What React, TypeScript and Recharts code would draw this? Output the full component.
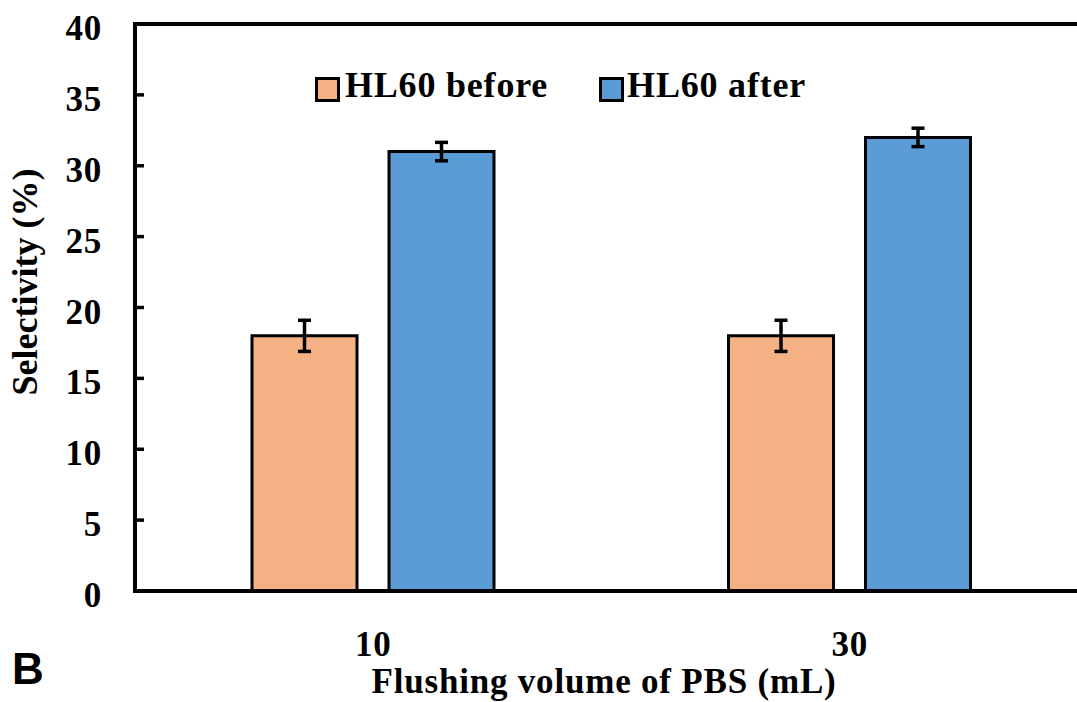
import { BarChart, Bar, XAxis, YAxis, ErrorBar, Legend, ReferenceLine } from "recharts";

const volumes = ["10", "30"];
const hl60Before = [18, 18];
const hl60BeforeErr = [1.1, 1.1];
const hl60After = [31, 32];
const hl60AfterErr = [0.65, 0.65];
const yTicks = [0, 5, 10, 15, 20, 25, 30, 35, 40];

const SERIF = '"Liberation Serif", "Times New Roman", serif';
const ORANGE = "#F4B183";
const BLUE = "#5B9BD5";
const FONT_SIZE = 35;
const SPACING = 0.8;

const data = volumes.map((volume, i) => ({
  volume,
  before: hl60Before[i],
  beforeErr: hl60BeforeErr[i],
  after: hl60After[i],
  afterErr: hl60AfterErr[i],
}));

const legendItems = [
  { name: "HL60 before", color: ORANGE },
  { name: "HL60 after", color: BLUE },
];

function YTick({ x, y, payload }: any) {
  const v = payload.value;
  return (
    <g>
      {v !== 0 && v !== 40 && <line x1={x} x2={x + 9} y1={y} y2={y} stroke="#000" strokeWidth={3.5} />}
      <text
        x={102}
        y={y + 16}
        textAnchor="end"
        fontFamily={SERIF}
        fontWeight="bold"
        fontSize={FONT_SIZE}
        letterSpacing={SPACING}
        fill="#000"
      >
        {v}
      </text>
    </g>
  );
}

function XTick({ x, payload }: any) {
  return (
    <text
      x={x}
      y={656}
      textAnchor="middle"
      fontFamily={SERIF}
      fontWeight="bold"
      fontSize={FONT_SIZE}
      letterSpacing={SPACING}
      fill="#000"
    >
      {payload.value}
    </text>
  );
}

function renderLegend() {
  return (
    <div
      style={{
        display: "flex",
        alignItems: "center",
        fontFamily: SERIF,
        fontWeight: "bold",
        fontSize: 36,
        letterSpacing: SPACING,
        lineHeight: "36px",
        whiteSpace: "nowrap",
        color: "#000",
      }}
    >
      {legendItems.map((item, i) => (
        <div key={item.name} style={{ display: "flex", alignItems: "center", marginRight: i === 0 ? 51 : 0 }}>
          <span
            style={{
              display: "inline-block",
              position: "relative",
              top: 4,
              width: 25,
              height: 25,
              boxSizing: "border-box",
              border: "3px solid #000",
              background: item.color,
              marginRight: i === 0 ? 5 : 3,
            }}
          />
          <span>{item.name}</span>
        </div>
      ))}
    </div>
  );
}

export default function App() {
  return (
    <div style={{ position: "absolute", left: 0, top: 0, width: 1077, height: 702, overflow: "hidden", background: "#fff" }}>
      <BarChart
        width={1100}
        height={702}
        data={data}
        margin={{ top: 24, right: 12, left: 0, bottom: 0 }}
        barSize={105}
        barGap={32}
      >
        <XAxis
          dataKey="volume"
          height={111}
          tickLine={false}
          tickSize={0}
          tickMargin={0}
          axisLine={{ stroke: "#000", strokeWidth: 4, strokeLinecap: "square" }}
          tick={<XTick />}
          label={{
            content: () => (
              <g>
                <text
                  x={604}
                  y={693}
                  textAnchor="middle"
                  fontFamily={SERIF}
                  fontWeight="bold"
                  fontSize={FONT_SIZE}
                  letterSpacing={SPACING}
                  fill="#000"
                >
                  Flushing volume of PBS (mL)
                </text>
                <text x={12} y={684} fontFamily='"Liberation Sans", Arial, sans-serif' fontWeight="bold" fontSize={44} fill="#000">
                  B
                </text>
              </g>
            ),
          }}
        />
        <YAxis
          type="number"
          domain={[0, 40]}
          ticks={yTicks}
          width={135}
          tickLine={false}
          tickSize={0}
          tickMargin={0}
          axisLine={{ stroke: "#000", strokeWidth: 4, strokeLinecap: "square" }}
          tick={<YTick />}
          label={{
            content: () => (
              <text
                x={37}
                y={282}
                transform="rotate(-90, 37, 282)"
                textAnchor="middle"
                fontFamily={SERIF}
                fontWeight="bold"
                fontSize={36}
                fill="#000"
              >
                Selectivity (%)
              </text>
            ),
          }}
        />
        <ReferenceLine y={40} stroke="#000" strokeWidth={4} />
        <Legend
          layout="vertical"
          align="center"
          verticalAlign="middle"
          wrapperStyle={{ top: 67, left: 315, width: "auto" }}
          content={renderLegend}
        />
        <Bar dataKey="before" name="HL60 before" fill={ORANGE} stroke="#000" strokeWidth={3} isAnimationActive={false}>
          <ErrorBar dataKey="beforeErr" width={6.5} stroke="#000" strokeWidth={3.5} />
        </Bar>
        <Bar dataKey="after" name="HL60 after" fill={BLUE} stroke="#000" strokeWidth={3} isAnimationActive={false}>
          <ErrorBar dataKey="afterErr" width={6.5} stroke="#000" strokeWidth={3.5} />
        </Bar>
      </BarChart>
    </div>
  );
}
